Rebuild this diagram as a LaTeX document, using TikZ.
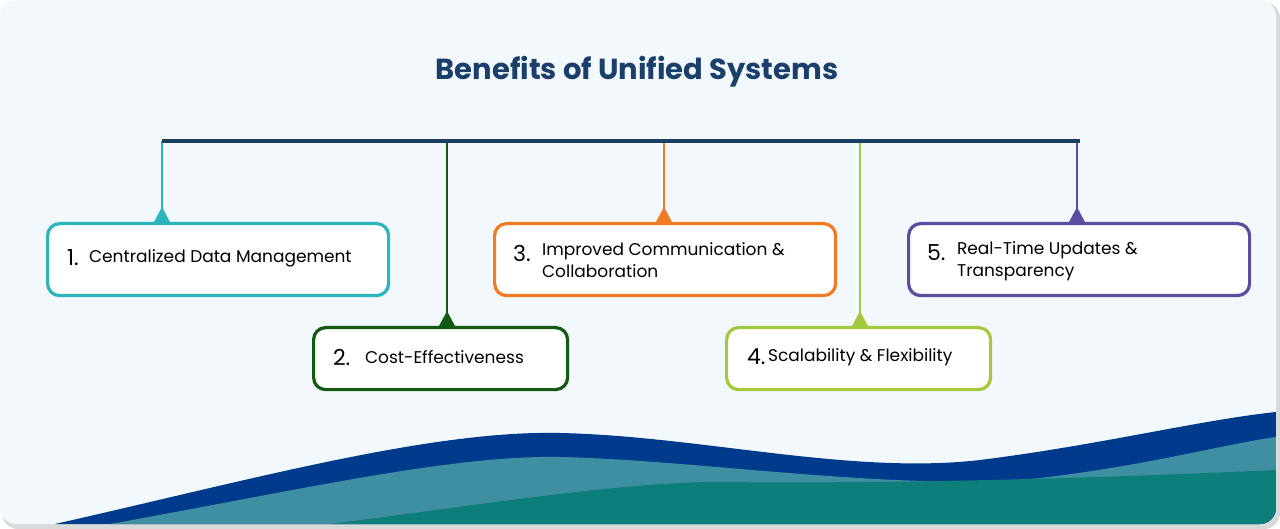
\documentclass[tikz,border=0pt]{standalone}
\usepackage{fontspec}
\setmainfont{Poppins}
\usetikzlibrary{positioning}
\definecolor{bgc}{HTML}{F3F8FC}
\definecolor{barc}{HTML}{1B3F5E}
\definecolor{titlec}{HTML}{1B3F6B}
\definecolor{c1}{HTML}{2BB5BC}
\definecolor{c2}{HTML}{155A12}
\definecolor{c3}{HTML}{F07B22}
\definecolor{c4}{HTML}{A4C93D}
\definecolor{c5}{HTML}{5B4EA0}
\definecolor{wave1}{HTML}{003A8C}
\definecolor{wave2}{HTML}{3F8FA3}
\definecolor{wave3}{HTML}{0E7E7A}
\tikzset{
  box/.style={draw=#1,line width=1.6pt,rounded corners=6pt,fill=white,anchor=north west},
  num/.style={font=\fontsize{11}{13}\selectfont,anchor=west},
  lbl/.style={font=\fontsize{8.5}{11}\selectfont,anchor=west,align=left},
  stem/.style={draw=#1,line width=1.2pt}
}
\begin{document}
\begin{tikzpicture}[x=0.5pt,y=-0.5pt]
	\useasboundingbox (0,0) rectangle (1280,529);
	\fill[gray!30,rounded corners=8pt] (2,2) rectangle (1280,529);
	\fill[bgc,rounded corners=8pt] (0,0) rectangle (1276,524);
	% waves
	\begin{scope}
	\clip[rounded corners=8pt] (0,0) rectangle (1276,524);
	\fill[wave1] (55,524) .. controls (250,480) and (430,430) .. (560,433)
		.. controls (700,436) and (850,475) .. (980,460)
		.. controls (1100,445) and (1200,420) .. (1276,412) -- (1276,524) -- cycle;
	\fill[wave2] (110,524) .. controls (300,490) and (450,455) .. (560,457)
		.. controls (700,460) and (900,492) .. (1040,478)
		.. controls (1150,465) and (1220,445) .. (1276,437) -- (1276,524) -- cycle;
	\fill[wave3] (330,524) .. controls (480,505) and (620,482) .. (720,482)
		.. controls (900,484) and (1100,478) .. (1276,470) -- (1276,524) -- cycle;
	\end{scope}
	% title and bar
	\node[text=titlec,font=\fontsize{14.5}{17}\selectfont\bfseries] (title) at (637,72) {Benefits of Unified Systems};
	\coordinate (barL) at (162,141);
	\coordinate (barR) at (1080,141);
	% boxes
	\node[box=c1,minimum width=170.5pt,minimum height=36pt] (b1) at (46,222) {};
	\node[box=c2,minimum width=127pt,minimum height=31pt] (b2) at (312,326) {};
	\node[box=c3,minimum width=170.5pt,minimum height=36pt] (b3) at (493,222) {};
	\node[box=c4,minimum width=132pt,minimum height=31pt] (b4) at (725,326) {};
	\node[box=c5,minimum width=170.5pt,minimum height=36pt] (b5) at (907,222) {};
	% stems
	\foreach \n/\x/\y/\c in {b1/162/222/c1,b2/447/326/c2,b3/664/222/c3,b4/860/326/c4,b5/1077/222/c5}{
		\coordinate (top-\n) at (\x,141);
		\coordinate (foot-\n) at (\x,\y);
		\draw[stem=\c] (top-\n) -- (foot-\n);
		\fill[\c] (\x-8,\y) -- (\x+8,\y) -- (\x,\y-15) -- cycle;
	}
	\draw[barc,line width=2pt] (barL) -- (barR);
	% texts
	\node[num] (n1) at (60,258) {1.};
	\node[lbl] (t1) at (82,258) {Centralized Data Management};
	\node[num] (n2) at (326,357) {2.};
	\node[lbl] (t2) at (358,357) {Cost-Effectiveness};
	\node[num] (n3) at (506,253) {3.};
	\node[lbl] (t3) at (535,260) {Improved Communication \&\\Collaboration};
	\node[num] (n4) at (740,357) {4.};
	\node[lbl] (t4) at (761,357) {Scalability \& Flexibility};
	\node[num] (n5) at (920,253) {5.};
	\node[lbl] (t5) at (950,261) {Real-Time Updates \&\\Transparency};
\end{tikzpicture}
\end{document}
